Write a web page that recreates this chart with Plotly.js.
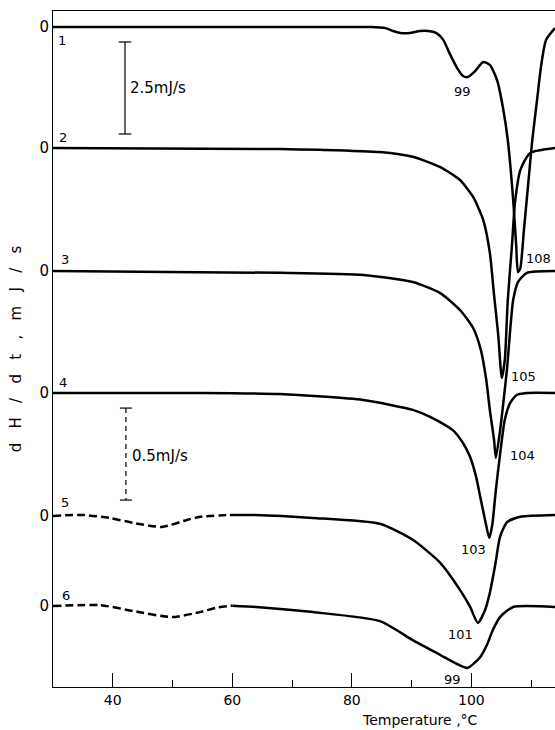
<!DOCTYPE html>
<html>
<head>
<meta charset="utf-8">
<script src="https://cdn.plot.ly/plotly-3.0.1.min.js"></script>
<style>
html,body{margin:0;padding:0;background:#fff;}
#chart{width:555px;height:730px;}
</style>
</head>
<body>
<div id="chart"></div>
<script>
// ---- Data: temperature (°C) and dH/dt (mJ/s) ----
const curveNames = ['1', '2', '3', '4', '5', '6'];

const temp1 = [30.0, 76.4, 83.1, 85.6, 86.9, 88.1, 89.7, 91.4, 92.8, 94.1, 95.3, 96.4, 97.6, 98.6, 99.4, 100.5, 102.0, 103.1, 104.3, 105.3, 106.1, 107.0, 107.5, 107.8, 108.2, 108.8, 109.5, 110.2, 111.0, 111.7, 112.5, 114.0];
const dhdt1 = [0, 0, 0, -0.03, -0.11, -0.16, -0.16, -0.11, -0.11, -0.16, -0.35, -0.73, -1.11, -1.33, -1.36, -1.22, -0.95, -1.03, -1.44, -2.20, -3.07, -4.70, -5.92, -6.66, -6.55, -5.52, -4.29, -3.07, -1.98, -1.03, -0.35, -0.03];

const temp2 = [30.0, 68.0, 74.7, 84.7, 90.2, 94.8, 98.1, 100.3, 102.0, 103.1, 103.8, 104.5, 105.1, 105.6, 106.1, 106.8, 107.3, 108.2, 109.8, 114.0];
const dhdt2 = [0, -0.03, -0.05, -0.11, -0.24, -0.52, -0.87, -1.33, -1.96, -2.85, -3.99, -5.08, -6.25, -5.76, -4.13, -2.64, -1.49, -0.60, -0.14, 0];

const temp3 = [30.0, 68.0, 81.9, 90.2, 94.8, 98.1, 100.3, 101.6, 102.5, 103.1, 103.8, 104.1, 104.8, 105.5, 106.0, 106.5, 107.0, 107.8, 109.3, 114.0];
const dhdt3 = [0, -0.05, -0.11, -0.30, -0.60, -1.06, -1.55, -2.15, -2.96, -3.78, -4.59, -5.08, -4.35, -3.37, -2.61, -1.60, -0.79, -0.30, -0.05, 0];

const temp4 = [30.0, 54.6, 68.0, 81.9, 90.2, 93.1, 96.9, 98.6, 99.8, 100.8, 101.5, 102.3, 103.0, 103.5, 104.1, 104.8, 105.6, 106.5, 107.6, 109.3, 114.0];
const dhdt4 = [0, 0, -0.03, -0.19, -0.46, -0.65, -1.01, -1.36, -1.74, -2.28, -2.83, -3.45, -3.94, -3.59, -2.64, -1.68, -0.73, -0.27, -0.05, 0, 0];

const temp5 = [30.0, 35.0, 39.5, 43.4, 48.2, 52.4, 54.6, 59.6, 63.5, 73.5, 84.7, 90.2, 94.8, 98.1, 99.8, 101.1, 102.3, 103.1, 104.0, 104.8, 106.0, 108.2, 114.0];
const dhdt5 = [0, 0.005, -0.011, -0.038, -0.060, -0.022, -0.005, 0.005, 0.005, -0.011, -0.043, -0.130, -0.255, -0.402, -0.495, -0.582, -0.511, -0.418, -0.266, -0.114, -0.033, -0.005, 0.005];

const temp6 = [30.0, 37.9, 43.4, 49.9, 54.6, 57.5, 60.0, 64.0, 73.5, 84.7, 90.2, 94.8, 97.6, 99.3, 100.5, 101.5, 102.6, 103.6, 104.8, 107.0, 114.0];
const dhdt6 = [0, 0.005, -0.027, -0.060, -0.033, -0.008, 0.002, -0.005, -0.033, -0.082, -0.185, -0.266, -0.315, -0.337, -0.310, -0.277, -0.212, -0.130, -0.060, -0.005, -0.005];

// peak temperature labels (curve index, label, search window in °C)
const peakLabels = ['99', '108', '105', '104', '103', '101', '99'];
const peakCurve  = [0, 0, 1, 2, 3, 4, 5];
const peakWindow = [[90, 103], [103, 114], [90, 114], [90, 114], [90, 114], [90, 114], [90, 114]];

const xTickLabels = ['40', '60', '80', '100'];

// ---- Layout helpers (positions / styles) ----
const temps = [temp1, temp2, temp3, temp4, temp5, temp6];
const vals  = [dhdt1, dhdt2, dhdt3, dhdt4, dhdt5, dhdt6];
// y offsets of each curve's zero line (display units: 1 unit = 1 mJ/s on the 2.5 mJ/s bar)
const offsets = [-0.435, -3.723, -7.065, -10.38, -13.72, -16.17];
const gain    = [1, 1, 1, 1, 5, 5];          // curves 5,6 drawn on the 0.5 mJ/s bar
const dashEnd = [null, null, null, null, 59.6, 60.0];
const FONT = 'DejaVu Sans, Liberation Sans, sans-serif';
const LW = 2.5;

const traces = [];
temps.forEach((t, i) => {
  const y = vals[i].map(v => offsets[i] + gain[i] * v);
  if (dashEnd[i] === null) {
    traces.push({x: t, y: y, mode: 'lines', line: {color: '#000', width: LW, shape: 'spline', smoothing: 0.6}, hoverinfo: 'skip'});
  } else {
    const xd = [], yd = [], xs = [], ys = [];
    t.forEach((tt, k) => {
      if (tt <= dashEnd[i]) { xd.push(tt); yd.push(y[k]); }
      if (tt >= dashEnd[i]) { xs.push(tt); ys.push(y[k]); }
    });
    traces.push({x: xd, y: yd, mode: 'lines', line: {color: '#000', width: LW, dash: '8px,4px', shape: 'spline', smoothing: 0.6}, hoverinfo: 'skip'});
    traces.push({x: xs, y: ys, mode: 'lines', line: {color: '#000', width: LW, shape: 'spline', smoothing: 0.6}, hoverinfo: 'skip'});
  }
});

const annotations = [];
// curve numbers
const numShift = [[9, -13], [10, 11], [12, 11], [10, 10], [12, 13], [13, 11]];
curveNames.forEach((n, i) => {
  annotations.push({x: temps[i][0], y: offsets[i], xref: 'x', yref: 'y', text: n, showarrow: false,
    xanchor: 'center', yanchor: 'middle', xshift: numShift[i][0], yshift: numShift[i][1],
    font: {family: FONT, size: 13, color: '#000'}});
});
// peak labels anchored at the minimum of each curve within the window
const peakShift = [[-5, -14, 'center'], [6, 14, 'left'], [7, 2, 'left'], [12, 2, 'left'], [-1, -12, 'right'], [-3, -12, 'right'], [-4, -11, 'right']];
peakLabels.forEach((lab, j) => {
  const c = peakCurve[j];
  let best = -1, bv = Infinity;
  temps[c].forEach((tt, k) => {
    if (tt >= peakWindow[j][0] && tt <= peakWindow[j][1] && vals[c][k] < bv) { bv = vals[c][k]; best = k; }
  });
  annotations.push({x: temps[c][best], y: offsets[c] + gain[c] * bv, xref: 'x', yref: 'y', text: lab, showarrow: false,
    xanchor: peakShift[j][2], yanchor: 'middle', xshift: peakShift[j][0], yshift: peakShift[j][1],
    font: {family: FONT, size: 13, color: '#000'}});
});
// scale bar labels
annotations.push({x: 42.5, y: -2.09, xref: 'x', yref: 'y', text: '2.5mJ/s', showarrow: false, xanchor: 'left', yanchor: 'middle', font: {family: FONT, size: 15, color: '#000'}});
annotations.push({x: 42.9, y: -12.09, xref: 'x', yref: 'y', text: '0.5mJ/s', showarrow: false, xanchor: 'left', yanchor: 'middle', font: {family: FONT, size: 15, color: '#000'}});
// x axis title
annotations.push({x: 0.731, y: -0.049, xref: 'paper', yref: 'paper', text: 'Temperature ,°C', showarrow: false, xanchor: 'center', yanchor: 'middle', font: {family: FONT, size: 14, color: '#000'}});

const shapes = [
  // 2.5 mJ/s bar
  {type: 'line', xref: 'x', yref: 'y', x0: 42.05, x1: 42.05, y0: -0.842, y1: -3.342, line: {color: '#000', width: 1.2}},
  {type: 'line', xref: 'x', yref: 'y', x0: 41.0, x1: 43.1, y0: -0.842, y1: -0.842, line: {color: '#000', width: 1.2}},
  {type: 'line', xref: 'x', yref: 'y', x0: 41.0, x1: 43.1, y0: -3.342, y1: -3.342, line: {color: '#000', width: 1.2}},
  // 0.5 mJ/s bar
  {type: 'line', xref: 'x', yref: 'y', x0: 42.2, x1: 42.2, y0: -10.79, y1: -13.29, line: {color: '#000', width: 1.2, dash: '5px,4px'}},
  {type: 'line', xref: 'x', yref: 'y', x0: 41.2, x1: 43.2, y0: -10.79, y1: -10.79, line: {color: '#000', width: 1.2}},
  {type: 'line', xref: 'x', yref: 'y', x0: 41.2, x1: 43.2, y0: -13.29, y1: -13.29, line: {color: '#000', width: 1.2}}
];

const yTitle = ['d', 'H', '/', 'd', 't', ',', 'm', 'J', '/', 's'].join('\u00a0\u00a0\u00a0');

const layout = {
  width: 555, height: 730,
  margin: {l: 53, r: 0, t: 11, b: 43, pad: 0},
  paper_bgcolor: '#fff', plot_bgcolor: '#fff',
  showlegend: false,
  font: {family: FONT, size: 14, color: '#000'},
  xaxis: {
    range: [30, 114], showgrid: false, zeroline: false,
    showline: true, mirror: true, linecolor: '#000', linewidth: 1,
    tickmode: 'array', tickvals: xTickLabels.map(Number), ticktext: xTickLabels,
    ticks: 'inside', ticklen: 14, tickwidth: 1, tickcolor: '#000',
    minor: {tickmode: 'array', tickvals: [50, 70, 90, 110], ticks: 'inside', ticklen: 7, tickwidth: 1, tickcolor: '#000'},
    tickfont: {family: FONT, size: 14, color: '#000'}
  },
  yaxis: {
    range: [-18.37, 0], showgrid: false, zeroline: false,
    showline: true, mirror: false, linecolor: '#000', linewidth: 1,
    tickmode: 'array', tickvals: offsets, ticktext: offsets.map(() => '0'),
    ticks: '', ticklabelstandoff: 0,
    tickfont: {family: FONT, size: 15, color: '#000'},
    title: {text: yTitle, standoff: 14, font: {family: FONT, size: 15, color: '#000'}}
  },
  annotations: annotations,
  shapes: shapes
};

Plotly.newPlot('chart', traces, layout, {staticPlot: true, displayModeBar: false});
</script>
</body>
</html>
